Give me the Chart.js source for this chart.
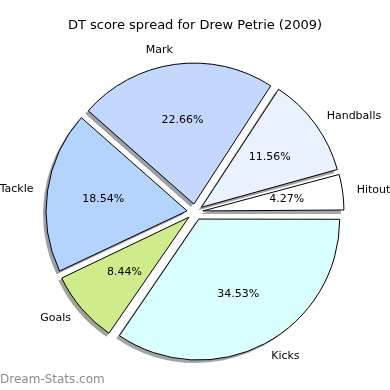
<!DOCTYPE html>
<html>
<head>
<meta charset="utf-8">
<script src="https://cdn.jsdelivr.net/npm/chart.js@4"></script>
<style>
  html, body { margin: 0; padding: 0; background: #fff; }
  #wrap { width: 390px; height: 390px; }
</style>
</head>
<body>
<div id="wrap"><canvas id="chart" width="390" height="390"></canvas></div>
<script>
// slices in clockwise order starting at 3 o'clock
const labels = ["Kicks", "Goals", "Tackle", "Mark", "Handballs", "Hitout"];
const values = [34.53, 8.44, 18.54, 22.66, 11.56, 4.27];
const colors = ["#d9ffff", "#d0eb8c", "#b4d4ff", "#c4d8ff", "#eaf1ff", "#ffffff"];

const titleText = "DT score spread for Drew Petrie (2009)";
const OFFSET = 32; // chart.js moves an arc by offset/4

function shadowOf(hex) {
  const n = parseInt(hex.slice(1), 16);
  const c = [(n >> 16) & 255, (n >> 8) & 255, n & 255].map(v => Math.round(127.5 + 0.15 * v));
  return "rgb(" + c.join(",") + ")";
}

function fixOf(arc) {
  return 1 - Math.sin(Math.min(Math.PI, arc.circumference || 0));
}

const pieExtras = {
  id: "pieExtras",
  afterDatasetUpdate(chart) {
    // undo chart.js growing the radius of small offset slices
    chart.getDatasetMeta(0).data.forEach(arc => {
      arc.outerRadius = arc.outerRadius - (OFFSET / 4) * fixOf(arc);
    });
  },
  beforeDatasetsDraw(chart) {
    const ctx = chart.ctx;
    chart.getDatasetMeta(0).data.forEach((arc, i) => {
      const mid = (arc.startAngle + arc.endAngle) / 2;
      const cx = arc.x + Math.cos(mid) * OFFSET / 4 - 3;
      const cy = arc.y + Math.sin(mid) * OFFSET / 4 + 3;
      const r = arc.outerRadius + (OFFSET / 4) * fixOf(arc);
      ctx.save();
      ctx.fillStyle = shadowOf(colors[i]);
      ctx.beginPath();
      ctx.moveTo(cx, cy);
      ctx.arc(cx, cy, r, arc.startAngle, arc.endAngle);
      ctx.closePath();
      ctx.fill();
      ctx.restore();
    });
  },
  afterDatasetsDraw(chart) {
    const ctx = chart.ctx;
    ctx.save();
    ctx.fillStyle = "#000";
    ctx.textBaseline = "middle";
    chart.getDatasetMeta(0).data.forEach((arc, i) => {
      const mid = (arc.startAngle + arc.endAngle) / 2;
      const r = arc.outerRadius + (OFFSET / 4) * fixOf(arc);
      const cx = arc.x + Math.cos(mid) * OFFSET / 4;
      const cy = arc.y + Math.sin(mid) * OFFSET / 4;
      ctx.font = "11px 'DejaVu Sans'";
      ctx.textAlign = Math.cos(mid) > 0 ? "left" : "right";
      ctx.fillText(labels[i], cx + Math.cos(mid) * r * 1.1, cy + Math.sin(mid) * r * 1.1);
      ctx.textAlign = "center";
      ctx.fillText(values[i].toFixed(2) + "%", cx + Math.cos(mid) * r * 0.6, cy + Math.sin(mid) * r * 0.6);
    });
    ctx.font = "13px 'DejaVu Sans'";
    ctx.textAlign = "center";
    ctx.fillText(titleText, 195, 26);
    ctx.font = "12px 'DejaVu Sans'";
    ctx.textAlign = "left";
    ctx.fillStyle = "#8c8c8c";
    ctx.fillText("Dream-Stats.com", 0, 380);
    ctx.restore();
  }
};

new Chart(document.getElementById("chart").getContext("2d"), {
  type: "pie",
  data: {
    labels: labels,
    datasets: [{
      data: values,
      backgroundColor: colors,
      borderColor: "#000",
      borderWidth: 1,
      offset: OFFSET
    }]
  },
  options: {
    responsive: false,
    animation: false,
    rotation: 90,
    events: [],
    layout: { padding: { left: 37.5, right: 37.5, top: 54.5, bottom: 20.5 } },
    plugins: {
      legend: { display: false },
      tooltip: { enabled: false },
      title: { display: false }
    }
  },
  plugins: [pieExtras]
});
</script>
</body>
</html>
